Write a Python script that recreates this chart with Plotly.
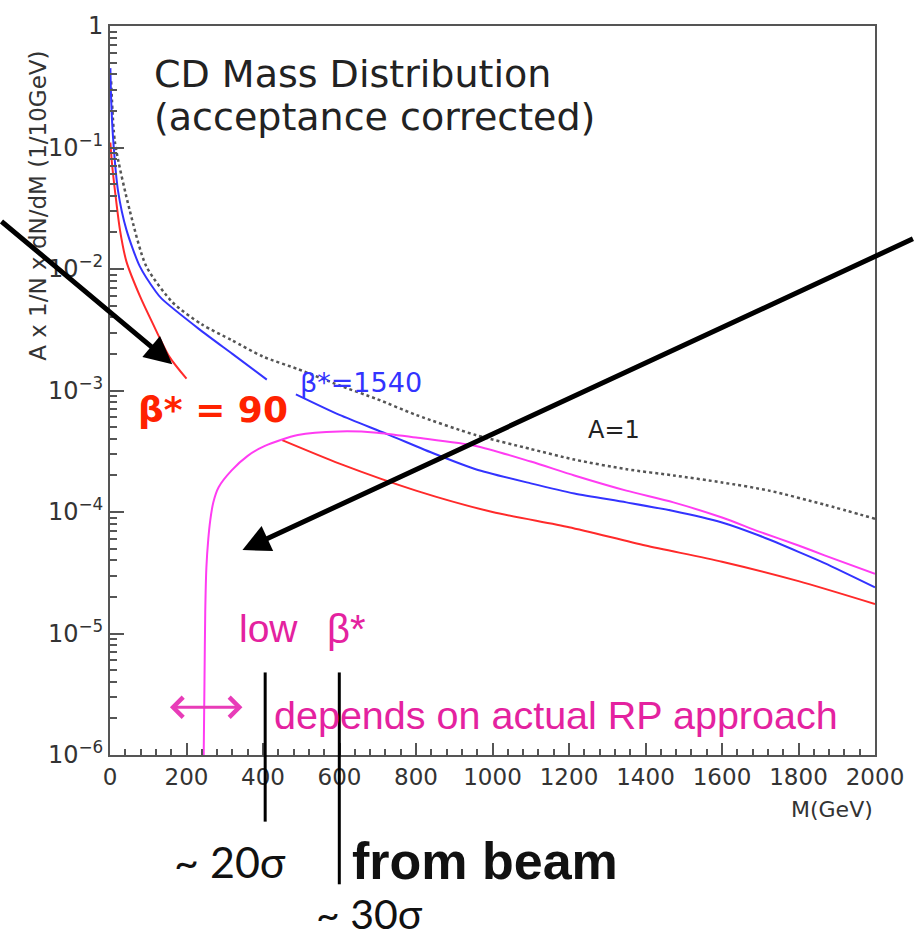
import plotly.graph_objects as go

# ---------------- data ----------------
red1_M = [1, 5, 13, 26, 43, 78, 111, 155, 200]
red1_V = [0.11, 0.075, 0.044, 0.021, 0.0115, 0.006, 0.0036, 0.0019, 0.00125]

red2_M = [450, 600, 800, 1000, 1200, 1400, 1600, 1800, 2000]
red2_V = [3.9e-4, 2.5e-4, 1.5e-4, 1.0e-4, 7.5e-5, 5.3e-5, 3.9e-5, 2.7e-5, 1.75e-5]

blue1_M = [1, 3, 8, 21, 43, 78, 120, 135, 233, 320, 410]
blue1_V = [0.45, 0.25, 0.12, 0.044, 0.021, 0.0105, 0.0065, 0.0057, 0.0032, 0.002, 0.00123]

blue2_M = [486, 600, 723, 850, 956, 1100, 1214, 1350, 1473, 1600, 1697, 1800, 1868, 2000]
blue2_V = [9.3e-4, 6.3e-4, 4.4e-4, 3.0e-4, 2.25e-4, 1.72e-4, 1.42e-4, 1.2e-4, 1.02e-4,
           8.2e-5, 6.4e-5, 4.7e-5, 3.8e-5, 2.4e-5]

mag_M = [245, 247, 249, 252, 257, 262, 270, 284, 318, 360, 405, 491, 600, 698, 800,
         956, 1100, 1214, 1350, 1473, 1600, 1697, 1800, 1868, 2000]
mag_V = [1e-6, 4e-6, 1.5e-5, 3.5e-5, 6e-5, 8.5e-5, 1.2e-4, 1.6e-4, 2.2e-4, 2.9e-4, 3.5e-4,
         4.3e-4, 4.6e-4, 4.5e-4, 4.1e-4, 3.5e-4, 2.6e-4, 2.0e-4, 1.5e-4, 1.2e-4, 9.0e-5,
         6.9e-5, 5.3e-5, 4.4e-5, 3.1e-5]

a1_M = [3, 13, 52, 95, 164, 240, 318, 400, 491, 600, 698, 800, 956, 1100, 1214, 1350,
        1473, 1600, 1723, 1868, 2000]
a1_V = [0.35, 0.11, 0.03, 0.0105, 0.0053, 0.0035, 0.0026, 0.0019, 0.0015, 0.0011, 8.5e-4,
        6.3e-4, 4.3e-4, 3.3e-4, 2.7e-4, 2.25e-4, 2.0e-4, 1.75e-4, 1.5e-4, 1.15e-4, 8.8e-5]

x_ticks = [0, 200, 400, 600, 800, 1000, 1200, 1400, 1600, 1800, 2000]
y_ticks = [1e-6, 1e-5, 1e-4, 1e-3, 1e-2, 1e-1, 1]
y_ticktext = ["10<sup>−6</sup>", "10<sup>−5</sup>", "10<sup>−4</sup>", "10<sup>−3</sup>",
              "10<sup>−2</sup>", "10<sup>−1</sup>", "1"]
y_minor = [m * 10.0 ** e for e in range(-6, 0) for m in range(2, 10)]

# ---------------- layout geometry (pixels) ----------------
W, H = 916, 943
L, R, T, B = 110, 884, 22, 755


def px(x):
    return (x - L) / (R - L)


def py(y):
    return (B - y) / (B - T)


RED = "#ff2a2a"
BLUE = "#3333ff"
MAG = "#ff3cf2"
PINK_TXT = "#e4229f"
FONT = "DejaVu Sans"
SM = 0.7

fig = go.Figure()
line_red = dict(color=RED, width=2, shape="spline", smoothing=SM)
line_blue = dict(color=BLUE, width=2, shape="spline", smoothing=SM)
fig.add_trace(go.Scatter(x=a1_M, y=a1_V, mode="lines",
                         line=dict(color="#555555", width=2.5, dash="dot", shape="spline", smoothing=SM)))
fig.add_trace(go.Scatter(x=red1_M, y=red1_V, mode="lines", line=line_red))
fig.add_trace(go.Scatter(x=red2_M, y=red2_V, mode="lines", line=line_red))
fig.add_trace(go.Scatter(x=blue1_M, y=blue1_V, mode="lines", line=line_blue))
fig.add_trace(go.Scatter(x=blue2_M, y=blue2_V, mode="lines", line=line_blue))
fig.add_trace(go.Scatter(x=mag_M, y=mag_V, mode="lines",
                         line=dict(color=MAG, width=2, shape="spline", smoothing=SM)))

ann = []


def text(x, y, s, size, color="#222222", anchor="left", bold=False, family=FONT, angle=0):
    ann.append(dict(x=px(x), y=py(y), xref="paper", yref="paper", text=("<b>%s</b>" % s) if bold else s,
                    showarrow=False, xanchor=anchor, yanchor="middle", textangle=angle,
                    font=dict(size=size, color=color, family=family)))


text(152, 70, "CD Mass Distribution", 38)
text(152, 114, "(acceptance corrected)", 38)
text(136, 408, "β* = 90", 36, color="#ff2200", bold=True)
text(300, 380, "β*=1540", 27, color=BLUE)
text(592, 428, "A=1", 24, color="#222222")
text(238, 628, "low", 39, color=PINK_TXT, family="Liberation Sans")
text(328, 628, "β*", 40, color=PINK_TXT, family="Liberation Sans")
text(274, 715, "depends on actual RP approach", 39.5, color=PINK_TXT, family="Liberation Sans")
text(173, 862, "~ 20σ", 43, color="#111111", family="Lato")
text(353, 862, "from beam", 52, color="#111111", bold=True, family="Liberation Sans")
text(316, 914, "~ 30σ", 41, color="#111111", family="Lato")
text(884, 810, "M(GeV)", 22, color="#333333", anchor="right")
text(37, 203, "A x 1/N x dN/dM (1/10GeV)", 23, color="#333333", anchor="center", angle=-90)


def arrow(tail, tip, width, color, head=2, size=1.0, both=False):
    d = dict(x=px(tip[0]), y=py(tip[1]), xref="paper", yref="paper", text="",
             ax=tail[0] - tip[0], ay=tail[1] - tip[1], showarrow=True,
             arrowhead=head, arrowsize=size, arrowwidth=width, arrowcolor=color)
    if both:
        d.update(arrowside="end+start", startarrowhead=head, startarrowsize=size)
    ann.append(d)


arrow((0, 218), (173, 362), 5, "#000000", head=2, size=1.1)
arrow((916, 237), (244, 549), 5, "#000000", head=2, size=1.1)
arrow((170, 707), (244, 707), 3, "#e83cb8", head=4, size=1.3, both=True)

shapes = [
    dict(type="line", xref="paper", yref="paper", x0=px(267), x1=px(267), y0=py(672), y1=py(822),
         line=dict(color="#000000", width=3)),
    dict(type="line", xref="paper", yref="paper", x0=px(342), x1=px(342), y0=py(672), y1=py(885),
         line=dict(color="#000000", width=3)),
]

fig.update_layout(
    width=W, height=H,
    margin=dict(l=L, r=W - R, t=T, b=H - B),
    paper_bgcolor="white", plot_bgcolor="white",
    showlegend=False,
    annotations=ann, shapes=shapes,
    font=dict(family=FONT, color="#333333"),
    xaxis=dict(range=[0, 2000], tickvals=x_ticks, ticks="inside", ticklen=12, tickwidth=1.5,
               tickcolor="#555555", showgrid=False, zeroline=False,
               showline=True, linecolor="#555555", linewidth=2, mirror=True,
               tickfont=dict(size=23, color="#333333", family=FONT),
               minor=dict(dtick=40, ticks="inside", ticklen=6, tickcolor="#555555", tickwidth=1.5)),
    yaxis=dict(type="log", range=[-6, 0], tickvals=y_ticks, ticktext=y_ticktext,
               ticks="inside", ticklen=14, tickwidth=1.5, tickcolor="#555555",
               showgrid=False, zeroline=False,
               showline=True, linecolor="#555555", linewidth=2, mirror=True,
               tickfont=dict(size=24, color="#333333", family=FONT),
               minor=dict(tickvals=y_minor, ticks="inside", ticklen=7, tickcolor="#555555", tickwidth=1.5)),
)

fig.write_html("out.html")
